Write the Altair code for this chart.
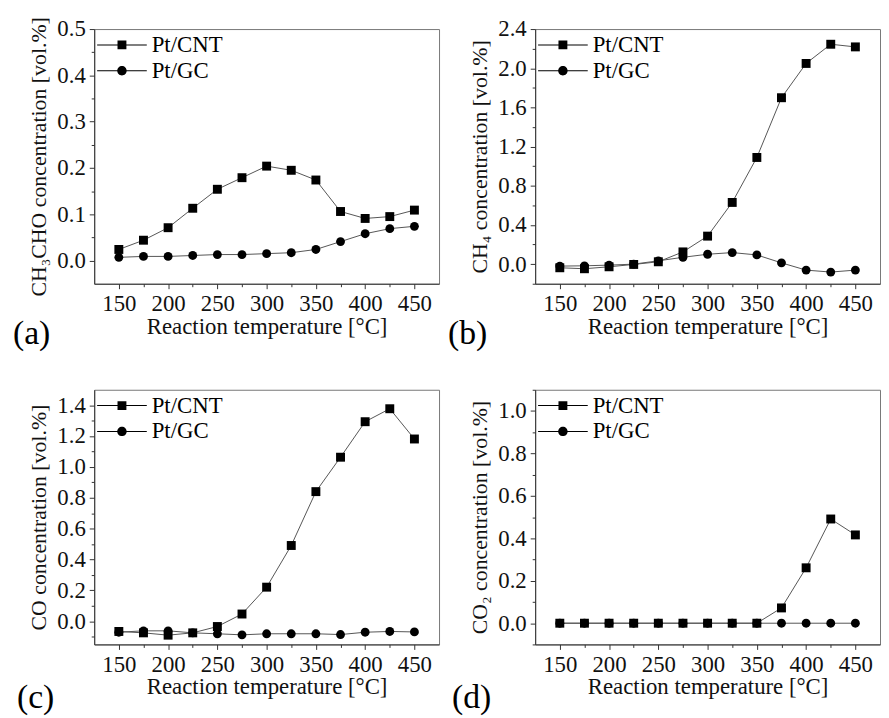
import altair as alt
import pandas as pd

temps = [150, 175, 200, 225, 250, 275, 300, 325, 350, 375, 400, 425, 450]
series_names = ["Pt/CNT", "Pt/GC"]

# (a) CH3CHO
a_cnt = [0.024, 0.044, 0.071, 0.113, 0.154, 0.179, 0.204, 0.195, 0.174, 0.106, 0.091, 0.095, 0.109]
a_gc = [0.007, 0.009, 0.009, 0.011, 0.013, 0.013, 0.015, 0.017, 0.024, 0.041, 0.058, 0.069, 0.074]
# (b) CH4
b_cnt = [-0.037, -0.047, -0.027, -0.003, 0.024, 0.125, 0.286, 0.63, 1.089, 1.699, 2.049, 2.245, 2.218]
b_gc = [-0.02, -0.017, -0.01, 0.0, 0.034, 0.07, 0.101, 0.118, 0.094, 0.013, -0.061, -0.081, -0.061]
# (c) CO
c_cnt = [-0.066, -0.075, -0.09, -0.075, -0.034, 0.047, 0.221, 0.491, 0.84, 1.063, 1.293, 1.377, 1.181]
c_gc = [-0.071, -0.062, -0.062, -0.075, -0.081, -0.088, -0.081, -0.081, -0.081, -0.086, -0.071, -0.066, -0.069]
# (d) CO2
d_cnt = [0.0, 0.0, 0.0, 0.0, 0.0, 0.0, 0.0, 0.0, 0.0, 0.072, 0.261, 0.491, 0.416]
d_gc = [0.0, 0.0, 0.0, 0.0, 0.0, 0.0, 0.0, 0.0, 0.0, 0.0, 0.0, 0.0, 0.0]

x_major = [150, 200, 250, 300, 350, 400, 450]
x_minor = [175, 225, 275, 325, 375, 425]

FONT = "Liberation Serif"
LINE = "#555555"
FS = 23

# legend glyphs: a thin bar (the line) through a square / a circle, all filled
SQ_PATH = ("M-1.79,-0.036H1.79V0.036H-1.79Z"
           "M-0.32,-0.32H0.32V0.32H-0.32Z")
CI_PATH = ("M-1.79,-0.036H1.79V0.036H-1.79Z"
           "M-0.34,0A0.34,0.34,0,1,1,0.34,0A0.34,0.34,0,1,1,-0.34,0Z")


def panel(cnt, gc, ydom, yticks, yminor, ytitle, label, dx, dy):
    df = pd.DataFrame({
        "T": temps * 2,
        "val": cnt + gc,
        "series": ["Pt/CNT"] * len(temps) + ["Pt/GC"] * len(temps),
    })
    xs = alt.Scale(domain=[125, 475], nice=False, zero=False)
    ys = alt.Scale(domain=ydom, nice=False, zero=False)
    base = alt.Chart(df)
    line = base.mark_line(color=LINE, strokeWidth=1).encode(
        x=alt.X("T:Q", scale=xs, axis=alt.Axis(values=x_major, format="d",
                                                title="Reaction temperature [°C]",
                                                orient="bottom")),
        y=alt.Y("val:Q", scale=ys, axis=alt.Axis(values=yticks, format=".1f",
                                                  title=ytitle, orient="left")),
        detail="series:N",
    )
    sq = base.transform_filter(alt.datum.series == "Pt/CNT").mark_square(
        size=81, color="black", opacity=1).encode(
        x=alt.X("T:Q", scale=xs, axis=None),
        y=alt.Y("val:Q", scale=ys, axis=None),
    )
    ci = base.transform_filter(alt.datum.series == "Pt/GC").mark_circle(
        size=80, color="black", opacity=1).encode(
        x=alt.X("T:Q", scale=xs, axis=None),
        y=alt.Y("val:Q", scale=ys, axis=None),
    )
    minor = base.mark_point(opacity=0).encode(
        x=alt.X("T:Q", scale=xs, axis=alt.Axis(values=x_minor, labels=False, domain=False,
                                                tickSize=3, title=None, orient="bottom",
                                                grid=False)),
        y=alt.Y("val:Q", scale=ys, axis=alt.Axis(values=yminor, labels=False, domain=False,
                                                  tickSize=3, title=None, orient="left",
                                                  grid=False)),
    )
    leg = base.transform_filter("false").mark_point(
        filled=True, color="black", size=784, opacity=1).encode(
        shape=alt.Shape("series:N",
                        scale=alt.Scale(domain=series_names, range=[SQ_PATH, CI_PATH]),
                        legend=alt.Legend(orient="none", legendX=14, legendY=2, padding=0,
                                          rowPadding=0, labelOffset=16, labelFont=FONT,
                                          labelFontSize=FS, labelColor="black",
                                          symbolSize=784, symbolFillColor="black",
                                          symbolStrokeWidth=0,
                                          title=None, labelLimit=0)),
    )
    return alt.layer(line, sq, ci, minor, leg).resolve_axis(
        x="independent", y="independent").properties(
        width=348, height=257,
        title=alt.TitleParams(label, orient="bottom", anchor="start", frame="group",
                              dx=dx, dy=dy, offset=0, baseline="top"),
    )


pa = panel(a_cnt, a_gc, [-0.05, 0.5], [0.0, 0.1, 0.2, 0.3, 0.4, 0.5],
           [0.05, 0.15, 0.25, 0.35, 0.45], "CH₃CHO concentration [vol.%]", "(a)", -82, -21)
pb = panel(b_cnt, b_gc, [-0.2, 2.4], [0.0, 0.4, 0.8, 1.2, 1.6, 2.0, 2.4],
           [-0.2, 0.2, 0.6, 1.0, 1.4, 1.8, 2.2], "CH₄ concentration [vol.%]", "(b)", -88, -21)
pc = panel(c_cnt, c_gc, [-0.15, 1.5], [0.0, 0.2, 0.4, 0.6, 0.8, 1.0, 1.2, 1.4],
           [-0.1, 0.1, 0.3, 0.5, 0.7, 0.9, 1.1, 1.3], "CO concentration [vol.%]", "(c)", -78, -18)
pd_ = panel(d_cnt, d_gc, [-0.1, 1.1], [0.0, 0.2, 0.4, 0.6, 0.8, 1.0],
            [-0.1, 0.1, 0.3, 0.5, 0.7, 0.9, 1.1], "CO₂ concentration [vol.%]", "(d)", -84, -18)

chart = alt.concat(
    pa, pb, pc, pd_, columns=2,
    spacing={"row": 107, "column": 97}, bounds="flush",
).resolve_scale(shape="independent").properties(
    padding={"left": 4, "top": 5, "right": 0, "bottom": 0},
    background="white",
).configure_view(
    stroke="#777777", strokeWidth=1,
).configure_axis(
    labelFont=FONT, labelFontSize=FS, labelColor="#111111",
    titleFont=FONT, titleFontSize=FS, titleFontWeight="normal", titleColor="#111111",
    tickColor="#333333", domainColor="#333333", tickSize=5, labelPadding=2,
    grid=False,
).configure_axisY(
    titlePadding=6, labelPadding=4, titleFontSize=22,
).configure_axisX(
    titlePadding=0, labelPadding=4,
).configure_title(
    font=FONT, fontSize=34, fontWeight="normal", color="black",
)

chart.save("out.html", embed_options={"renderer": "svg", "actions": False})
